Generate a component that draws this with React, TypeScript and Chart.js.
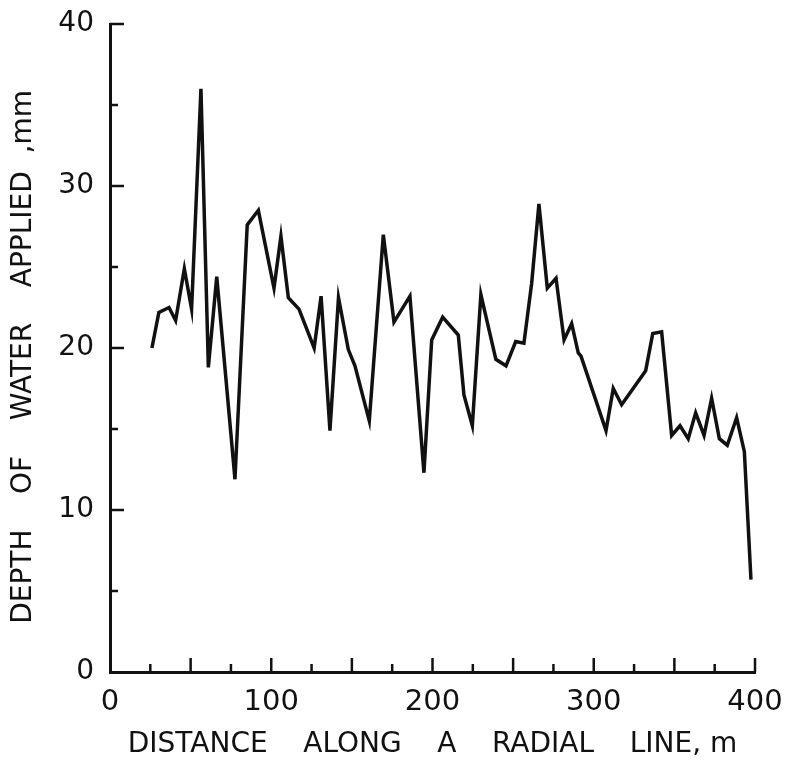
import React, { useEffect, useRef } from "react";
import { Chart, registerables } from "chart.js";

Chart.register(...registerables);

const distance: number[] = [
  26, 30.3, 36.6, 40.7, 46.1, 50.6, 56.4, 61.0, 66.2, 77.5, 85.1, 92.0, 101.7, 106.0, 110.6, 117.2,
  126.6, 130.9, 136.4, 141.7, 147.8, 151.9, 160.8, 169.5, 176.1, 186.0, 194.7, 199.5, 206.3, 216.0,
  219.5, 224.7, 230.0, 239.3, 245.6, 251.6, 256.7, 261.5, 266.0, 271.2, 276.6, 281.6, 286.3, 290.4,
  292.1, 307.6, 312.1, 317.3, 332.2, 336.6, 342.1, 348.3, 353.5, 358.6, 363.2, 368.4, 373.1, 377.9,
  382.8, 388.6, 393.4, 397.5,
];
const depth: number[] = [
  20.0, 22.2, 22.5, 21.7, 24.9, 22.4, 36.0, 18.8, 24.4, 11.9, 27.6, 28.5, 23.7, 26.9, 23.1, 22.4,
  20.0, 23.2, 14.9, 23.1, 19.9, 18.9, 15.5, 27.0, 21.6, 23.2, 12.3, 20.5, 21.9, 20.8,
  17.1, 15.2, 23.3, 19.3, 18.9, 20.4, 20.3, 24.0, 28.9, 23.7, 24.3, 20.5, 21.5, 19.7,
  19.5, 14.9, 17.5, 16.5, 18.6, 20.9, 21.0, 14.6, 15.2, 14.4, 16.0, 14.6, 16.9, 14.4,
  14.0, 15.7, 13.6, 5.7,
];
const xTickMarks: number[] = [25, 50, 75, 100, 125, 150, 175, 200, 225, 250, 275, 300, 325, 350, 375, 400];
const yTickMarks: number[] = [5, 10, 15, 20, 25, 30, 35, 40];
const xTitle = "DISTANCE    ALONG    A    RADIAL    LINE, m";
const yTitle = "DEPTH    OF    WATER    APPLIED  ,mm  ";

const FONT = "'DejaVu Sans', sans-serif";
const INK = "#111";

const inwardTicks = {
  id: "inwardTicks",
  afterDraw(chart: any) {
    const { ctx, chartArea, scales } = chart;
    const xs = scales.x;
    const ys = scales.y;
    ctx.save();
    ctx.strokeStyle = INK;
    ctx.lineWidth = 2.5;
    ctx.lineCap = "butt";
    for (const v of xTickMarks) {
      const px = xs.getPixelForValue(v);
      const len = v % 50 === 0 ? 14 : 8;
      ctx.beginPath();
      ctx.moveTo(px, chartArea.bottom);
      ctx.lineTo(px, chartArea.bottom - len);
      ctx.stroke();
    }
    for (const v of yTickMarks) {
      const py = ys.getPixelForValue(v);
      const len = v % 10 === 0 ? 14 : 8;
      ctx.beginPath();
      ctx.moveTo(chartArea.left, py);
      ctx.lineTo(chartArea.left + len, py);
      ctx.stroke();
    }
    ctx.restore();
  },
};

export default function App() {
  const ref = useRef<HTMLCanvasElement | null>(null);
  useEffect(() => {
    if (!ref.current) return;
    const chart = new Chart(ref.current, {
      type: "line",
      data: {
        datasets: [
          {
            data: distance.map((d, i) => ({ x: d, y: depth[i] })),
            borderColor: INK,
            borderWidth: 3.5,
            pointRadius: 0,
            tension: 0,
            fill: false,
            borderJoinStyle: "miter",
          },
        ],
      },
      options: {
        responsive: false,
        animation: false,
        devicePixelRatio: 1,
        layout: { padding: { top: 24, right: 30, left: 0, bottom: 0 } },
        plugins: { legend: { display: false }, tooltip: { enabled: false } },
        scales: {
          x: {
            type: "linear",
            min: 0,
            max: 400,
            grid: { display: false, drawTicks: false },
            border: { display: true, color: INK, width: 3 },
            ticks: {
              stepSize: 100,
              color: INK,
              padding: 13,
              maxRotation: 0,
              font: { family: FONT, size: 29 },
            },
            title: {
              display: true,
              text: xTitle,
              color: INK,
              font: { family: FONT, size: 28, lineHeight: 1 },
              padding: { top: 0, bottom: 2 },
            },
            afterFit(scale: any) {
              scale.height = 89;
              scale.paddingLeft = 0;
              scale.paddingRight = 0;
            },
          },
          y: {
            type: "linear",
            min: 0,
            max: 40,
            grid: { display: false, drawTicks: false },
            border: { display: true, color: INK, width: 3 },
            ticks: {
              stepSize: 10,
              color: INK,
              padding: 16,
              font: { family: FONT, size: 28 },
            },
            title: {
              display: true,
              text: yTitle,
              color: INK,
              font: { family: FONT, size: 28, lineHeight: 1 },
              padding: { top: 10, bottom: 0 },
            },
            afterFit(scale: any) {
              scale.width = 110;
              scale.paddingTop = 0;
              scale.paddingBottom = 0;
            },
          },
        },
      },
      plugins: [inwardTicks],
    } as any);
    return () => chart.destroy();
  }, []);
  return (
    <div style={{ position: "absolute", left: 0, top: 0, width: 785, height: 761, background: "#fff" }}>
      <canvas ref={ref} width={785} height={761} style={{ display: "block" }} />
    </div>
  );
}
